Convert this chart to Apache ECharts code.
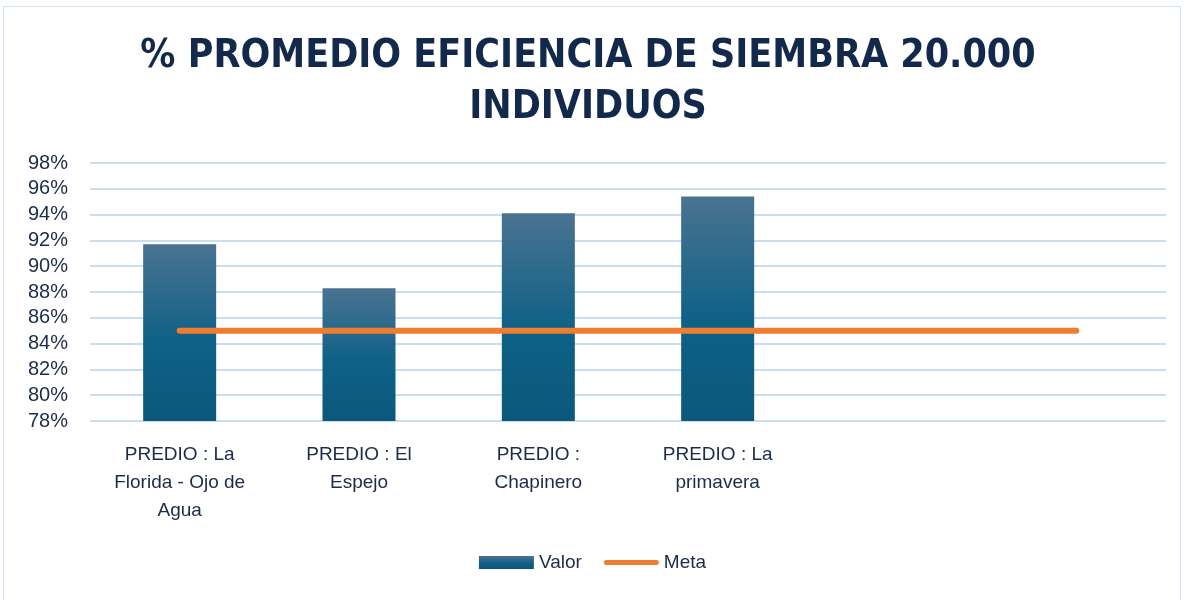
<!DOCTYPE html>
<html>
<head>
<meta charset="utf-8">
<script src="https://cdn.jsdelivr.net/npm/echarts@6/dist/echarts.min.js"></script>
<style>
  html, body { margin: 0; padding: 0; background: #fff; }
  #frame { position: absolute; left: 3px; top: 6px; width: 1178px; height: 600px; border: 1px solid #cfe0f3; box-sizing: border-box; }
  #main { width: 1185px; height: 600px; }
</style>
</head>
<body>
<div id="frame"></div>
<div id="main"></div>
<script>
  // categorias (las dos ultimas vacias en el original)
  const categories = ['PREDIO : La\nFlorida - Ojo de\nAgua', 'PREDIO : El\nEspejo', 'PREDIO :\nChapinero', 'PREDIO : La\nprimavera', '', ''];
  const valor = [91.7, 88.3, 94.1, 95.4, null, null];
  const meta = [85, 85, 85, 85, 85, 85];
  const yTicks = [78, 98, 2]; // min, max, intervalo

  let chart = echarts.init(document.getElementById('main'));
  let option = {
    title: {
      text: '% PROMEDIO EFICIENCIA DE SIEMBRA 20.000\nINDIVIDUOS',
      left: 583,
      top: 26,
      textAlign: 'center',
      textStyle: {
        fontFamily: 'DejaVu Sans Condensed',
        fontWeight: 'bold',
        fontSize: 39,
        lineHeight: 51,
        color: '#13294b'
      }
    },
    legend: {
      bottom: 23,
      left: 'center',
      itemWidth: 55,
      itemHeight: 13,
      itemGap: 22,
      textStyle: { fontFamily: 'Liberation Sans', fontSize: 19, color: '#1b2b48' },
      data: [
        { name: 'Valor', icon: 'rect' },
        { name: 'Meta', icon: 'path://M0,0L0.01,0M0,13L0.01,13M2.5,4L52.5,4A2.5,2.5 0 0 1 52.5,9L2.5,9A2.5,2.5 0 0 1 2.5,4Z' }
      ]
    },
    grid: { left: 90, right: 19, top: 163, bottom: 179 },
    xAxis: {
      type: 'category',
      data: categories,
      axisLine: { show: false },
      axisTick: { show: false },
      axisLabel: {
        interval: 0,
        margin: 20,
        fontFamily: 'Liberation Sans',
        fontSize: 19,
        lineHeight: 28,
        color: '#1b2b48'
      }
    },
    yAxis: {
      type: 'value',
      min: yTicks[0],
      max: yTicks[1],
      interval: yTicks[2],
      axisLine: { show: false },
      axisTick: { show: false },
      axisLabel: {
        margin: 22,
        formatter: '{value}%',
        fontFamily: 'Liberation Sans',
        fontSize: 20,
        color: '#1b2b48'
      },
      splitLine: { lineStyle: { color: '#cbddf1', width: 2 } }
    },
    series: [
      {
        name: 'Valor',
        type: 'bar',
        data: valor,
        barWidth: 73,
        itemStyle: {
          color: new echarts.graphic.LinearGradient(0, 0, 0, 1, [
            { offset: 0, color: '#4a7391' },
            { offset: 0.55, color: '#0f6187' },
            { offset: 1, color: '#0b587b' }
          ])
        }
      },
      {
        name: 'Meta',
        type: 'line',
        data: meta,
        symbol: 'none',
        lineStyle: { color: '#ed7d31', width: 6, cap: 'round' },
        itemStyle: { color: '#ed7d31' }
      }
    ]
  };
  chart.setOption(option);
</script>
</body>
</html>
